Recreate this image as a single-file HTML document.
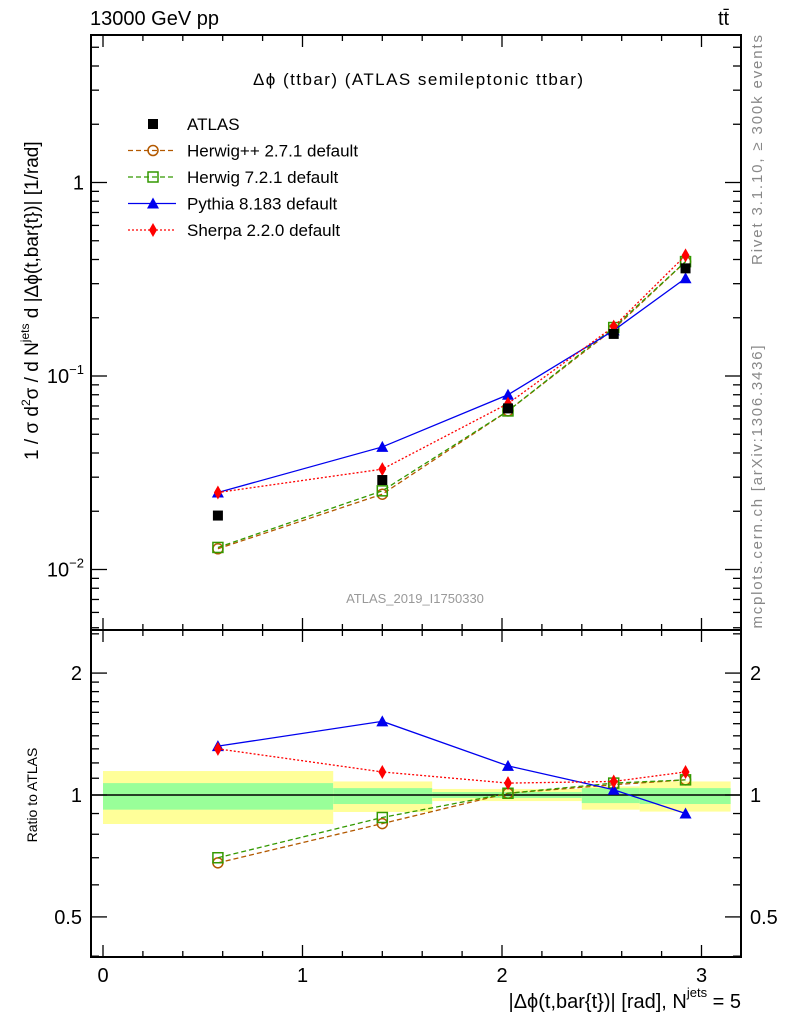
<!DOCTYPE html>
<html><head><meta charset="utf-8"><style>
body{margin:0;background:#fff}
svg{display:block;font-family:"Liberation Sans",sans-serif}
</style></head><body>
<svg id="c" width="786" height="1024" viewBox="0 0 786 1024">
<text x="90" y="25" font-size="20">13000 GeV pp</text>
<text x="718" y="25" font-size="20">tt̄</text>
<text x="418" y="85" font-size="17" text-anchor="middle" textLength="330">Δϕ (ttbar) (ATLAS semileptonic ttbar)</text>
<text x="415" y="603" font-size="13" fill="#999" text-anchor="middle">ATLAS_2019_I1750330</text>
<text transform="translate(762,150) rotate(-90)" font-size="15" fill="#888" text-anchor="middle" textLength="230">Rivet 3.1.10, ≥ 300k events</text>
<text transform="translate(762,487) rotate(-90)" font-size="15" fill="#888" text-anchor="middle" textLength="283">mcplots.cern.ch [arXiv:1306.3436]</text>
<text transform="translate(38,460) rotate(-90)" font-size="19">1 / σ d<tspan font-size="12" dy="-8">2</tspan><tspan dy="8">σ / d N</tspan><tspan font-size="12" dy="-9">jets</tspan><tspan dy="9"> d |Δϕ(t,bar{t})| [1/rad]</tspan></text>
<text transform="translate(37,795) rotate(-90)" font-size="14" text-anchor="middle">Ratio to ATLAS</text>
<text x="741" y="1008" font-size="20" text-anchor="end">|Δϕ(t,bar{t})| [rad], N<tspan font-size="13" dy="-11">jets</tspan><tspan dy="11"> = 5</tspan></text>
<g id="g"></g>
</svg>
<script>
const xs=[0.576,1.40,2.03,2.56,2.92];
const atlas=[0.019,0.029,0.068,0.165,0.36];
const herwigpp=[0.0128,0.0245,0.066,0.175,0.39];
const herwig7=[0.013,0.0255,0.066,0.178,0.39];
const pythia=[0.025,0.043,0.080,0.172,0.32];
const sherpa=[0.025,0.033,0.072,0.18,0.42];
const rHerwigpp=[0.68,0.85,1.01,1.06,1.09];
const rHerwig7=[0.70,0.88,1.01,1.07,1.09];
const rPythia=[1.32,1.52,1.18,1.03,0.90];
const rSherpa=[1.30,1.14,1.07,1.08,1.14];
const binEdges=[0,1.154,1.65,2.40,2.69,3.146];
const yelLo=[0.848,0.908,0.966,0.92,0.91];
const yelHi=[1.146,1.08,1.035,1.05,1.08];
const grnLo=[0.92,0.95,0.983,0.955,0.95];
const grnHi=[1.07,1.04,1.017,1.04,1.04];
const xTicks=[0,1,2,3];
const g=document.getElementById('g');
const NS='http://www.w3.org/2000/svg';
const L=91,R=741,T=35,MB=630,RB=957;
const X=v=>103+v*199.5;
const Y=v=>182.5-Math.log10(v)*193.5;
const YR=v=>795-Math.log10(v)*405;
function el(t,a,p){const e=document.createElementNS(NS,t);for(const k in a)e.setAttribute(k,a[k]);(p||g).appendChild(e);return e;}
for(let i=0;i<5;i++){
 const b=el('rect',{x:X(binEdges[i]),y:YR(yelHi[i]),width:X(binEdges[i+1])-X(binEdges[i]),height:YR(yelLo[i])-YR(yelHi[i]),fill:'#ffff99'});
 
 
 const c=el('rect',{x:X(binEdges[i]),y:YR(grnHi[i]),width:X(binEdges[i+1])-X(binEdges[i]),height:YR(grnLo[i])-YR(grnHi[i]),fill:'#99ff99'});
 
 
}
el('line',{x1:L,x2:R,y1:YR(1),y2:YR(1),stroke:'#000','stroke-width':1.5});
const f1=el('rect',{x:L,y:T,width:R-L,height:MB-T,fill:'none',stroke:'#000','stroke-width':2});


const f2=el('rect',{x:L,y:MB,width:R-L,height:RB-MB,fill:'none',stroke:'#000','stroke-width':2});


for(let v=0;v<=3.15;v+=0.2){const maj=Math.abs(v-Math.round(v))<1e-6;const len=maj?12:6;const x=X(v);
 for(const [y0,d] of [[T,1],[MB,-1],[MB,1],[RB,-1]]) el('line',{x1:x,x2:x,y1:y0,y2:y0+d*len,stroke:'#000','stroke-width':1.3});}
xTicks.forEach(v=>{const t=el('text',{x:X(v),y:982,'font-size':20,'text-anchor':'middle'});t.textContent=v;
 
 });
for(let e=-3;e<=0;e++)for(let m=1;m<=9;m++){const v=m*Math.pow(10,e);const y=Y(v);if(y<T||y>MB)continue;const len=m==1?16:8;
 el('line',{x1:L,x2:L+len,y1:y,y2:y,stroke:'#000','stroke-width':1.3});el('line',{x1:R,x2:R-len,y1:y,y2:y,stroke:'#000','stroke-width':1.3});}
[[1,'1',''],[0.1,'10','−1'],[0.01,'10','−2']].forEach(([v,b,s])=>{const t=el('text',{x:84,y:Y(v)+7,'font-size':20,'text-anchor':'end'});
 t.innerHTML=b+(s?'<tspan font-size="13" dy="-9">'+s+'</tspan>':'');
 
 });
const rt=[0.4,0.5,0.6,0.7,0.8,0.9,1,1.1,1.2,1.3,1.4,1.5,1.6,1.7,1.8,1.9,2,2.5];
rt.forEach(v=>{const y=YR(v);if(y<MB||y>RB)return;const maj=[0.5,1,2].includes(v);const len=maj?16:8;
 el('line',{x1:L,x2:L+len,y1:y,y2:y,stroke:'#000','stroke-width':1.3});el('line',{x1:R,x2:R-len,y1:y,y2:y,stroke:'#000','stroke-width':1.3});});
[[2,'2'],[1,'1'],[0.5,'0.5']].forEach(([v,s])=>{for(const [x,a] of [[82,'end'],[750,'start']]){const t=el('text',{x:x,y:YR(v)+7,'font-size':20,'text-anchor':a});t.textContent=s;
 
 }});
function marker(k,x,y,c){
 if(k=='sq')return el('rect',{x:x-5,y:y-5,width:10,height:10,fill:'#000'});
 if(k=='circ')return el('circle',{cx:x,cy:y,r:5,fill:'none',stroke:c,'stroke-width':1.5});
 if(k=='osq')return el('rect',{x:x-5,y:y-5,width:10,height:10,fill:'none',stroke:c,'stroke-width':1.5});
 if(k=='tri')return el('polygon',{points:`${x},${y-6} ${x-6},${y+5} ${x+6},${y+5}`,fill:c});
 if(k=='dia')return el('polygon',{points:`${x},${y-7} ${x-4},${y} ${x},${y+7} ${x+4},${y}`,fill:c});
}
const series=[
 ['herwigpp',herwigpp,rHerwigpp,'#b35900','circ','5,3'],
 ['herwig7',herwig7,rHerwig7,'#339900','osq','5,3'],
 ['pythia',pythia,rPythia,'#0000ee','tri',''],
 ['sherpa',sherpa,rSherpa,'#ff0000','dia','2,2']];
series.forEach(([n,d,r,c,k,da])=>{
 const p1=el('polyline',{points:xs.map((x,i)=>X(x)+','+Y(d[i])).join(' '),fill:'none',stroke:c,'stroke-width':1.3,'stroke-dasharray':da});
 
 
 const p2=el('polyline',{points:xs.map((x,i)=>X(x)+','+YR(r[i])).join(' '),fill:'none',stroke:c,'stroke-width':1.3,'stroke-dasharray':da});
 
 
 xs.forEach((x,i)=>{const m=marker(k,X(x),Y(d[i]),c);
  
  
  const m2=marker(k,X(x),YR(r[i]),c);
  
  });
});
xs.forEach((x,i)=>{const m=marker('sq',X(x),Y(atlas[i]),'#000');
 
 });
const leg=[['ATLAS','sq','#000',''],['Herwig++ 2.7.1 default','circ','#b35900','5,3'],['Herwig 7.2.1 default','osq','#339900','5,3'],['Pythia 8.183 default','tri','#0000ee',''],['Sherpa 2.2.0 default','dia','#ff0000','2,2']];
leg.forEach(([t,k,c,da],i)=>{const y=124+i*26.5;
 if(i>0)el('line',{x1:128,x2:176,y1:y,y2:y,stroke:c,'stroke-width':1.3,'stroke-dasharray':da});
 marker(k,153,y,c);
 const tx=el('text',{x:187,y:y+6,'font-size':17});tx.textContent=t;
 
 });
</script>
</body></html>
